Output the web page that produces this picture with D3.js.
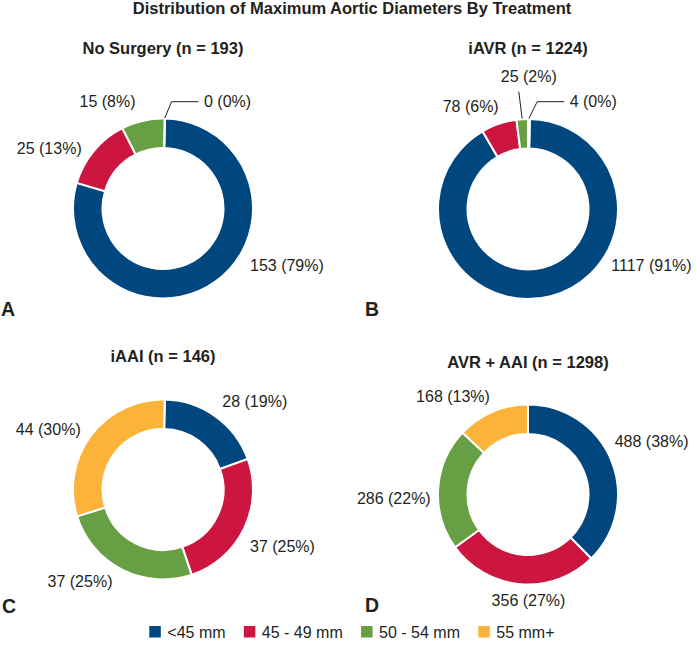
<!DOCTYPE html>
<html><head><meta charset="utf-8">
<script src="https://cdn.jsdelivr.net/npm/d3@7"></script>
<style>
body{margin:0;background:#fff}
text{font-family:"Liberation Sans",Arial,Helvetica,sans-serif;fill:#231f20}
</style>
</head><body>
<svg id="chart" width="696" height="651"></svg>
<script>
// ---- data ----
const categories = ["<45 mm", "45 - 49 mm", "50 - 54 mm", "55 mm+"];
const panelTitles = ["No Surgery (n = 193)", "iAVR (n = 1224)", "iAAI (n = 146)", "AVR + AAI (n = 1298)"];
const panelLetters = ["A", "B", "C", "D"];
const noSurgeryCounts = [153, 25, 15, 0];
const iavrCounts = [1117, 78, 25, 4];
const iaaiCounts = [28, 37, 37, 44];
const avrAaiCounts = [488, 356, 286, 168];
const chartTitle = "Distribution of Maximum Aortic Diameters By Treatment";

// ---- style / layout ----
const colors = ["#00467f", "#cd163f", "#67a044", "#fbb33a"];
const outerR = 90, innerR = 60.5;
const panels = [
  {values: noSurgeryCounts, cx: 163, cy: 208.5, rot: 0.02, titleDy: -154.5, letter: [1, 316],
   labels: [[87, 62, "start"], [-81.3, -54.8, "end"], [-55.5, -101.5, "middle"], [41, -101.5, "start", "elbow"]]},
  {values: iavrCounts, cx: 528, cy: 209, rot: 0.02, titleDy: -155, letter: [365, 316],
   labels: [[83.3, 61.5, "start"], [-29.3, -97, "end"], [0.8, -127, "middle", "straight"], [41.7, -102, "start", "elbow"]]},
  {values: iaaiCounts, cx: 163, cy: 489.5, rot: 0.02, titleDy: -127.5, letter: [2, 613],
   labels: [[59.3, -83, "start"], [87, 62.5, "start"], [-83, 97.5, "middle"], [-82.3, -55, "end"]]},
  {values: avrAaiCounts, cx: 528, cy: 494.5, rot: 0, titleDy: -126.5, letter: [365, 612],
   labels: [[86.7, -47.5, "start"], [0.5, 111, "middle"], [-97.3, 9, "end"], [-75, -92.5, "middle"]]}
];

const svg = d3.select("#chart");

svg.append("text").attr("x", 352).attr("y", 14).attr("text-anchor", "middle")
  .style("font-weight", "bold").style("font-size", "16.5px").text(chartTitle);

const arc = d3.arc().innerRadius(innerR).outerRadius(outerR);

panels.forEach((p, pi) => {
  const total = d3.sum(p.values);
  const pie = d3.pie().sort(null).value(d => d)
    .startAngle(p.rot).endAngle(p.rot + 2 * Math.PI);
  const arcs = pie(p.values);
  const g = svg.append("g").attr("transform", `translate(${p.cx},${p.cy})`);

  g.selectAll("path.slice").data(arcs).enter().append("path")
    .attr("class", "slice")
    .attr("d", arc)
    .attr("fill", (d, i) => colors[i])
    .attr("stroke", "#fff").attr("stroke-width", 2);

  g.append("text").attr("x", 0).attr("y", p.titleDy).attr("text-anchor", "middle")
    .style("font-weight", "bold").style("font-size", "16.5px").text(panelTitles[pi]);

  arcs.forEach((a, i) => {
    const [lx, ly, anchor, leader] = p.labels[i];
    const pct = Math.round(100 * a.data / total);
    g.append("text").attr("x", lx).attr("y", ly).attr("text-anchor", anchor)
      .style("font-size", "16px").text(`${a.data} (${pct}%)`);
    if (leader) {
      const mid = (a.startAngle + a.endAngle) / 2;
      const sx = Math.sin(mid) * (outerR + 0.5), sy = -Math.cos(mid) * (outerR + 0.5);
      let pts;
      if (leader === "elbow") {
        pts = [[sx, sy], [lx - 32.5, ly - 5.3], [lx - 5.5, ly - 5.3]];
      } else {
        pts = [[sx, sy], [lx - 10, ly + 9.7]];
      }
      g.append("path").attr("d", d3.line()(pts))
        .attr("fill", "none").attr("stroke", "#231f20").attr("stroke-width", 1);
    }
  });

  svg.append("text").attr("x", p.letter[0]).attr("y", p.letter[1])
    .style("font-weight", "bold").style("font-size", "19.5px").text(panelLetters[pi]);
});

// ---- legend ----
const legend = svg.append("g");
let lxPos = 149.3;
categories.forEach((c, i) => {
  legend.append("rect").attr("x", lxPos).attr("y", 626).attr("width", 11.5).attr("height", 11.5)
    .attr("fill", colors[i]);
  const t = legend.append("text").attr("x", lxPos + 18).attr("y", 637.5)
    .style("font-size", "16px").text(c);
  lxPos += 18 + t.node().getComputedTextLength() + 18.3;
});
</script>
</body></html>
